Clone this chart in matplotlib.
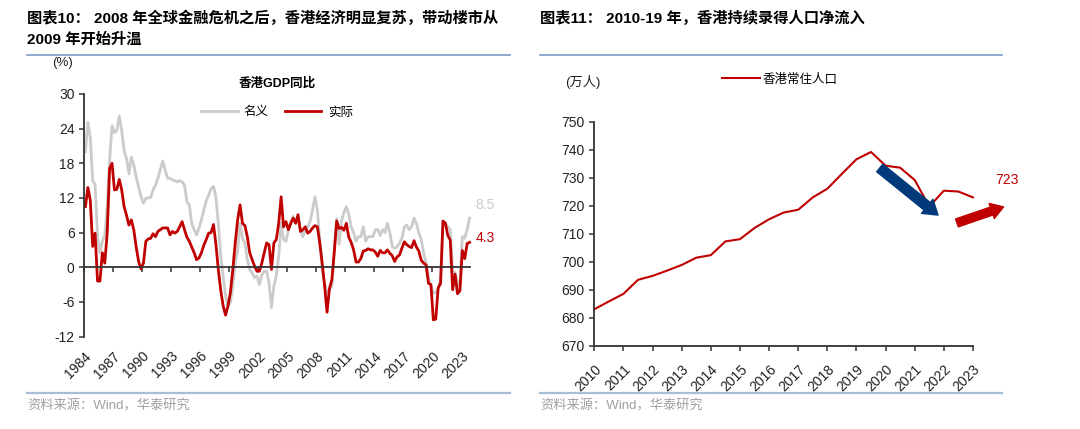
import matplotlib
matplotlib.use("Agg")
import matplotlib.pyplot as plt
import numpy as np


plt.rcParams["font.family"] = ["Liberation Sans", "Noto Sans CJK SC"]
plt.rcParams["axes.unicode_minus"] = False


RED = "#c00000"
GREY = "#cbcbcb"
NAVY = "#003a7a"
AXIS = "#333333"
RULE_TOP = "#7d9cc8"
RULE_BOTTOM = "#a9bdd8"
SOURCE = "#a0a0a0"


# Hong Kong GDP yoy (%), quarterly from 1984Q1
gdp_start_year = 1984

real_gdp = [
    10.5, 13.8, 11.6, 3.6, 5.9, -2.4, -2.4, 2.5, 0.7, 5.9,
    17.1, 18.0, 13.4, 13.5, 15.2, 13.4, 10.5, 9.0, 7.3, 8.2,
    6.5, 3.5, 1.0, -0.3, 0.7, 4.5, 4.9, 5.0, 5.8, 5.3,
    6.2, 6.5, 6.8, 6.8, 6.8, 5.6, 6.2, 5.9, 6.2, 7.0,
    7.9, 6.5, 5.2, 4.5, 3.5, 2.5, 1.3, 1.6, 2.5, 3.8,
    4.8, 5.9, 6.0, 7.4, 4.0, -0.4, -4.0, -6.7, -8.3, -6.7,
    -4.4, -0.4, 4.2, 8.2, 10.8, 7.6, 7.2, 5.3, 2.5, 1.3,
    0.2, -0.7, -0.7, 0.7, 2.5, 4.2, 3.9, -0.4, 4.2, 4.8,
    7.6, 12.2, 7.0, 7.9, 6.5, 7.6, 8.5, 7.6, 9.1, 6.2,
    6.5, 7.0, 5.9, 6.2, 6.8, 7.2, 7.0, 4.2, 0.7, -3.3,
    -7.8, -3.7, -2.2, 2.6, 8.0, 6.7, 6.9, 6.4, 7.6, 5.2,
    4.3, 3.0, 0.9, 0.9, 1.5, 2.8, 2.9, 3.2, 3.0, 3.0,
    2.6, 1.9, 2.9, 2.5, 2.5, 3.0, 2.4, 2.0, 1.0, 1.8,
    2.1, 3.3, 4.4, 3.9, 3.6, 3.4, 4.6, 3.5, 2.8, 1.2,
    0.7, 0.4, -2.8, -3.0, -9.1, -9.0, -3.6, -2.8, 8.0, 7.6,
    5.5, 4.7, -3.9, -1.2, -4.6, -4.1, 2.9, 1.5, 4.1, 4.3,
]

nominal_gdp = [
    20.0, 25.1, 22.5, 15.0, 14.3, 5.3, 2.5, 4.5, 5.5, 10.5,
    18.5, 24.5, 23.3, 23.7, 26.2, 23.7, 20.2, 18.8, 16.2, 19.1,
    17.7, 15.6, 13.9, 12.2, 11.1, 11.9, 12.0, 12.1, 13.4, 14.2,
    15.4, 16.9, 18.4, 16.8, 15.4, 15.4, 15.1, 15.0, 14.8, 15.0,
    14.8, 14.2, 11.3, 10.8, 7.6, 6.5, 5.6, 6.8, 8.2, 9.9,
    11.5, 12.5, 13.6, 14.0, 12.2, 7.6, 1.9, -1.5, -5.0, -6.7,
    -6.1, -3.3, 0.7, 3.0, 7.6, 5.0, 4.2, 1.3, -0.4, -1.0,
    -1.8, -1.5, -3.0, -1.3, -0.7, -0.7, -2.7, -7.0, -3.3, -1.5,
    1.9, 7.6, 4.8, 4.5, 6.5, 7.9, 8.8, 7.9, 8.5, 6.5,
    5.3, 6.5, 7.0, 7.9, 9.9, 12.2, 9.9, 4.5, -0.4, -2.7,
    -4.5, -3.8, -3.3, 3.0, 8.4, 4.0, 8.0, 9.5, 10.5, 9.1,
    7.0, 6.0, 4.5, 5.3, 5.3, 7.0, 4.5, 5.3, 5.3, 5.3,
    6.5, 6.5, 5.5, 6.5, 6.0, 7.6, 6.0, 3.6, 3.3, 3.5,
    4.2, 5.0, 7.0, 7.3, 6.5, 7.0, 8.5, 7.6, 5.9, 4.8,
    2.5, 0.7, -1.8, -3.3, -4.5, -4.4, -3.8, -2.0, 7.9, 7.6,
    7.0, 6.5, -0.5, -1.0, -2.7, -3.3, 5.3, 5.0, 6.5, 8.5,
]

gdp_year_ticks = list(range(1984, 2024, 3))
gdp_value_ticks = [-12, -6, 0, 6, 12, 18, 24, 30]


# Hong Kong resident population (10k persons), half-yearly
population_periods = [
    2010.0, 2010.5, 2011.0, 2011.5, 2012.0, 2012.5, 2013.0, 2013.5, 2014.0,
    2014.5, 2015.0, 2015.5, 2016.0, 2016.5, 2017.0, 2017.5, 2018.0, 2018.5,
    2019.0, 2019.5, 2020.0, 2020.5, 2021.0, 2021.5, 2022.0, 2022.5, 2023.0,
]

population = [
    683.1, 685.9, 688.6, 693.6, 695.0, 696.9, 698.9, 701.5, 702.4,
    707.3, 708.1, 712.1, 715.2, 717.6, 718.6, 723.0, 726.1, 731.4,
    736.6, 739.2, 734.3, 733.6, 729.2, 719.7, 725.4, 725.1, 723.0,
]

population_year_ticks = list(range(2010, 2024))
population_value_ticks = list(range(670, 751, 10))


def style_axis(ax):

    for side in ["top", "right"]:
        ax.spines[side].set_visible(False)

    for side in ["left", "bottom"]:
        ax.spines[side].set_color(AXIS)
        ax.spines[side].set_linewidth(1.3)

    ax.tick_params(
        axis="both",
        direction="out",
        length=3.5,
        width=1.1,
        color=AXIS,
        labelsize=10,
        labelcolor="#222222"
    )

    ax.set_facecolor("none")


def draw_frame(fig, x0, x1, title_lines):

    for i, line in enumerate(title_lines):
        fig.text(
            x0 / 1080,
            1 - (18 + 22 * i) / 429,
            line,
            fontsize=11,
            fontweight="bold",
            va="center",
            ha="left"
        )

    fig.add_artist(
        plt.Line2D(
            [x0 / 1080, x1 / 1080],
            [1 - 55 / 429, 1 - 55 / 429],
            color=RULE_TOP,
            linewidth=1.2
        )
    )

    fig.add_artist(
        plt.Line2D(
            [x0 / 1080, x1 / 1080],
            [1 - 393 / 429, 1 - 393 / 429],
            color=RULE_BOTTOM,
            linewidth=1.6
        )
    )

    fig.text(
        x0 / 1080,
        1 - 406 / 429,
        "资料来源：Wind，华泰研究",
        fontsize=9.5,
        color=SOURCE,
        va="center",
        ha="left"
    )


def plot_gdp(fig):

    ax = fig.add_axes([0.078, 0.2156, 0.357, 0.5653])

    style_axis(ax)

    quarters = gdp_start_year + (np.arange(len(real_gdp)) + 0.5) / 4

    ax.plot(
        quarters,
        nominal_gdp,
        color=GREY,
        linewidth=2,
        label="名义",
        clip_on=False
    )

    ax.plot(
        quarters,
        real_gdp,
        color=RED,
        linewidth=2,
        label="实际",
        clip_on=False
    )

    ax.set_xlim(1984, 2023.9)
    ax.set_ylim(-12, 30)
    ax.set_yticks(gdp_value_ticks)

    # x axis line crosses at zero, year labels stay under the plot
    ax.spines["bottom"].set_position(("data", 0))
    ax.set_xticks(gdp_year_ticks)
    ax.tick_params(axis="x", labelbottom=False)

    years = ax.secondary_xaxis("bottom")
    years.set_xticks(gdp_year_ticks)
    years.set_xticklabels(
        [str(y) for y in gdp_year_ticks],
        rotation=45,
        ha="right",
        va="top",
        rotation_mode="anchor"
    )
    years.spines["bottom"].set_visible(False)
    years.tick_params(length=0, pad=9, labelsize=10, labelcolor="#222222")

    ax.text(
        quarters[-1] + 0.6,
        nominal_gdp[-1] + 2.2,
        f"{nominal_gdp[-1]:.1f}",
        color=GREY,
        fontsize=10,
        ha="left",
        va="center"
    )

    ax.text(
        quarters[-1] + 0.6,
        real_gdp[-1] + 0.8,
        f"{real_gdp[-1]:.1f}",
        color=RED,
        fontsize=10,
        ha="left",
        va="center"
    )

    ax.legend(
        loc="upper center",
        bbox_to_anchor=(0.5, 0.995),
        ncol=2,
        frameon=False,
        fontsize=9,
        handlelength=2.9,
        columnspacing=1.3,
        handletextpad=0.5
    )

    ax.set_title(
        "香港GDP同比",
        fontsize=9,
        fontweight="bold",
        pad=5
    )

    fig.text(
        52 / 1080,
        1 - 63 / 429,
        "(%)",
        fontsize=9.5,
        color="#222222",
        va="center",
        ha="left"
    )


def plot_population(fig):

    ax = fig.add_axes([0.5503, 0.1935, 0.3506, 0.5228])

    style_axis(ax)

    ax.plot(
        population_periods,
        population,
        color=RED,
        linewidth=1.5,
        label="香港常住人口",
        clip_on=False
    )

    ax.set_xlim(2010, 2023)
    ax.set_ylim(670, 750)
    ax.set_yticks(population_value_ticks)
    ax.set_xticks(population_year_ticks)
    ax.set_xticklabels(
        [str(y) for y in population_year_ticks],
        rotation=45,
        ha="right",
        va="top",
        rotation_mode="anchor"
    )
    ax.tick_params(axis="x", pad=8)

    ax.text(
        population_periods[-1] + 1.15,
        population[-1] + 6.2,
        f"{population[-1]:.0f}",
        color=RED,
        fontsize=10,
        ha="center",
        va="center"
    )

    # direction arrows
    ax.annotate(
        "",
        xy=(2021.8, 716.7),
        xytext=(2019.8, 733.5),
        arrowprops=dict(
            arrowstyle="simple,head_width=1.3,head_length=1.0,tail_width=0.7",
            color=NAVY,
            shrinkA=0,
            shrinkB=0
        ),
        annotation_clip=False
    )

    ax.annotate(
        "",
        xy=(2024.05, 719.6),
        xytext=(2022.45, 713.9),
        arrowprops=dict(
            arrowstyle="simple,head_width=1.15,head_length=0.9,tail_width=0.6",
            color=RED,
            shrinkA=0,
            shrinkB=0
        ),
        annotation_clip=False
    )

    ax.legend(
        loc="upper center",
        bbox_to_anchor=(0.49, 1.265),
        frameon=False,
        fontsize=9,
        handlelength=3.0,
        handletextpad=0.25
    )

    fig.text(
        565 / 1080,
        1 - 82 / 429,
        "(万人)",
        fontsize=9.5,
        color="#222222",
        va="center",
        ha="left"
    )


fig = plt.figure(figsize=(10.8, 4.29), dpi=100)

draw_frame(
    fig,
    27,
    510,
    [
        "图表10： 2008 年全球金融危机之后，香港经济明显复苏，带动楼市从",
        "2009 年开始升温",
    ]
)

draw_frame(
    fig,
    540,
    1002,
    ["图表11： 2010-19 年，香港持续录得人口净流入"]
)

plot_gdp(fig)
plot_population(fig)

fig.savefig("out.png", dpi=100)
plt.close(fig)
